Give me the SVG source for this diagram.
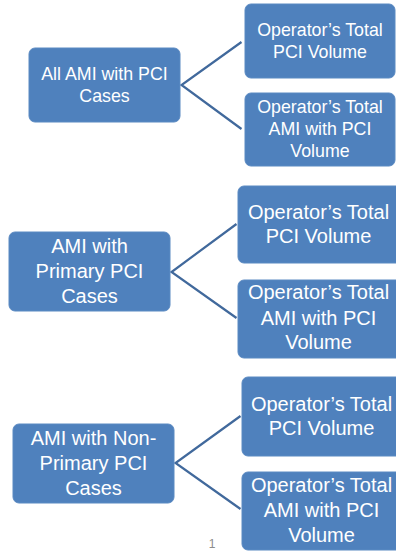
<svg xmlns="http://www.w3.org/2000/svg" width="396" height="551" viewBox="0 0 396 551">
<style>
.box{fill:#4F81BD;stroke:#5B8AC2;stroke-width:1}
.t{font-family:"Liberation Sans",Arial,sans-serif;fill:#FFFFFF;text-anchor:middle}
.s1{font-size:17.8px}
.s2{font-size:20px}
.c{stroke:#41699C;stroke-width:2.2;fill:none}
</style>
<rect width="396" height="551" fill="#FFFFFF"/>
<g id="connectors">
<polyline class="c" points="241.5,42 181.5,85 241.5,129"/>
<polyline class="c" points="236.5,224 171.5,272 236.5,318"/>
<polyline class="c" points="240.5,416 175.5,463 240.5,509"/>
</g>
<g id="n1">
<rect class="box" x="29" y="48" width="151" height="74" rx="6"/>
<text class="t s1" x="104.5" y="80">All AMI with PCI</text>
<text class="t s1" x="104.5" y="102">Cases</text>
</g>
<g id="n1a">
<rect class="box" x="245" y="4" width="150" height="74" rx="6"/>
<text class="t s1" x="320" y="36">Operator’s Total</text>
<text class="t s1" x="320" y="57.5">PCI Volume</text>
</g>
<g id="n1b">
<rect class="box" x="245" y="93" width="150" height="73" rx="6"/>
<text class="t s1" x="320" y="113">Operator’s Total</text>
<text class="t s1" x="320" y="135">AMI with PCI</text>
<text class="t s1" x="320" y="157">Volume</text>
</g>
<g id="n2">
<rect class="box" x="9" y="232" width="161" height="79" rx="6"/>
<text class="t s2" x="89.5" y="253">AMI with</text>
<text class="t s2" x="89.5" y="278">Primary PCI</text>
<text class="t s2" x="89.5" y="303">Cases</text>
</g>
<g id="n2a">
<rect class="box" x="238" y="186" width="164" height="77" rx="6"/>
<text class="t s2" x="318.5" y="219">Operator’s Total</text>
<text class="t s2" x="318.5" y="243">PCI Volume</text>
</g>
<g id="n2b">
<rect class="box" x="238" y="280" width="164" height="78" rx="6"/>
<text class="t s2" x="318.5" y="299">Operator’s Total</text>
<text class="t s2" x="318.5" y="325">AMI with PCI</text>
<text class="t s2" x="318.5" y="349">Volume</text>
</g>
<g id="n3">
<rect class="box" x="13" y="424" width="161" height="79" rx="6"/>
<text class="t s2" x="93.5" y="445">AMI with Non-</text>
<text class="t s2" x="93.5" y="470">Primary PCI</text>
<text class="t s2" x="93.5" y="495">Cases</text>
</g>
<g id="n3a">
<rect class="box" x="242" y="377" width="160" height="79" rx="6"/>
<text class="t s2" x="321.5" y="411">Operator’s Total</text>
<text class="t s2" x="321.5" y="435">PCI Volume</text>
</g>
<g id="n3b">
<rect class="box" x="242" y="472" width="160" height="78" rx="6"/>
<text class="t s2" x="321.5" y="492">Operator’s Total</text>
<text class="t s2" x="321.5" y="517">AMI with PCI</text>
<text class="t s2" x="321.5" y="542">Volume</text>
</g>
<text x="212" y="548" font-family="'Liberation Sans',Arial,sans-serif" font-size="12" fill="#8C8C8C" text-anchor="middle">1</text>
</svg>
